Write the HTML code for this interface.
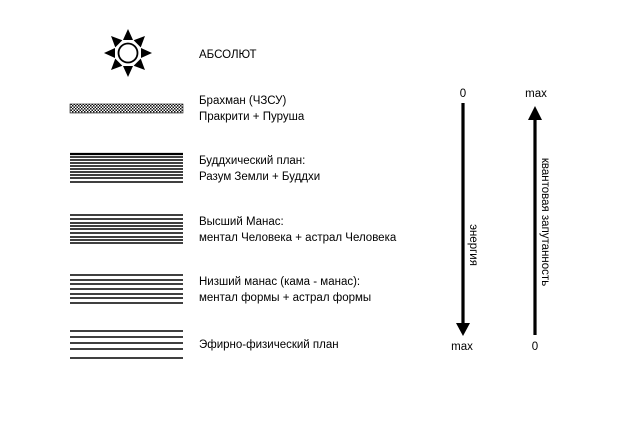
<!DOCTYPE html>
<html><head><meta charset="utf-8"><style>
body{margin:0;background:#fff;}
svg text{font-family:"Liberation Sans","DejaVu Sans",sans-serif;font-size:11.5px;fill:#000;}
</style></head><body>
<svg width="623" height="421" viewBox="0 0 623 421" xmlns="http://www.w3.org/2000/svg">
<defs>
<pattern id="chk" width="3" height="3" patternUnits="userSpaceOnUse">
<rect width="3" height="3" fill="#fff"/><rect width="1.5" height="1.5" fill="#111"/><rect x="1.5" y="1.5" width="1.5" height="1.5" fill="#111"/>
</pattern>
</defs>
<g transform="translate(128,53)" fill="#000">
<circle r="9.5" fill="none" stroke="#000" stroke-width="1.8"/>
<g id="ray"><polygon points="-5,-13 5,-13 0,-24"/></g>
<use href="#ray" transform="rotate(45)"/><use href="#ray" transform="rotate(90)"/><use href="#ray" transform="rotate(135)"/>
<use href="#ray" transform="rotate(180)"/><use href="#ray" transform="rotate(225)"/><use href="#ray" transform="rotate(270)"/><use href="#ray" transform="rotate(315)"/>
</g>
<text x="199" y="58">АБСОЛЮТ</text>
<rect x="70" y="104" width="113" height="9" fill="url(#chk)" stroke="#111" stroke-width="0.6"/>
<text x="199" y="104">Брахман (ЧЗСУ)</text>
<text x="199" y="120">Пракрити + Пуруша</text>
<g stroke="#000" stroke-width="1.4">
<line x1="70" x2="183" y1="154" y2="154" stroke-width="2.2"/><line x1="70" x2="183" y1="157" y2="157"/><line x1="70" x2="183" y1="160" y2="160"/><line x1="70" x2="183" y1="163" y2="163"/><line x1="70" x2="183" y1="166" y2="166"/><line x1="70" x2="183" y1="169" y2="169"/><line x1="70" x2="183" y1="172" y2="172"/><line x1="70" x2="183" y1="175" y2="175"/><line x1="70" x2="183" y1="178" y2="178"/><line x1="70" x2="183" y1="182" y2="182"/>
</g>
<text x="199" y="164">Буддхический план:</text>
<text x="199" y="180">Разум Земли + Буддхи</text>
<g stroke="#000" stroke-width="1.4">
<line x1="70" x2="183" y1="215" y2="215"/><line x1="70" x2="183" y1="219" y2="219"/><line x1="70" x2="183" y1="223" y2="223"/><line x1="70" x2="183" y1="226" y2="226"/><line x1="70" x2="183" y1="229" y2="229"/><line x1="70" x2="183" y1="233" y2="233"/><line x1="70" x2="183" y1="237" y2="237"/><line x1="70" x2="183" y1="240" y2="240"/><line x1="70" x2="183" y1="243" y2="243"/>
</g>
<text x="199" y="225">Высший Манас:</text>
<text x="199" y="241">ментал Человека + астрал Человека</text>
<g stroke="#000" stroke-width="1.4">
<line x1="70" x2="183" y1="275" y2="275"/><line x1="70" x2="183" y1="280" y2="280"/><line x1="70" x2="183" y1="284" y2="284"/><line x1="70" x2="183" y1="289" y2="289"/><line x1="70" x2="183" y1="294" y2="294"/><line x1="70" x2="183" y1="298" y2="298"/><line x1="70" x2="183" y1="303" y2="303"/>
</g>
<text x="199" y="285">Низший манас (кама - манас):</text>
<text x="199" y="301">ментал формы + астрал формы</text>
<g stroke="#000" stroke-width="1.4">
<line x1="70" x2="183" y1="331" y2="331"/><line x1="70" x2="183" y1="337" y2="337"/><line x1="70" x2="183" y1="343" y2="343"/><line x1="70" x2="183" y1="349" y2="349"/><line x1="70" x2="183" y1="358" y2="358"/>
</g>
<text x="199" y="348">Эфирно-физический план</text>
<text x="463" y="97" text-anchor="middle">0</text>
<text x="536" y="97" text-anchor="middle">max</text>
<line x1="463" y1="103" x2="463" y2="325" stroke="#000" stroke-width="3.2"/>
<polygon points="456,323 470,323 463,336" fill="#000"/>
<line x1="535" y1="118" x2="535" y2="335" stroke="#000" stroke-width="3.2"/>
<polygon points="528,120 542,120 535,106" fill="#000"/>
<text x="462" y="350" text-anchor="middle">max</text>
<text x="535" y="350" text-anchor="middle">0</text>
<text transform="translate(470,245) rotate(90)" text-anchor="middle">энергия</text>
<text transform="translate(542,222) rotate(90)" text-anchor="middle">квантовая запутанность</text>
</svg>
</body></html>
